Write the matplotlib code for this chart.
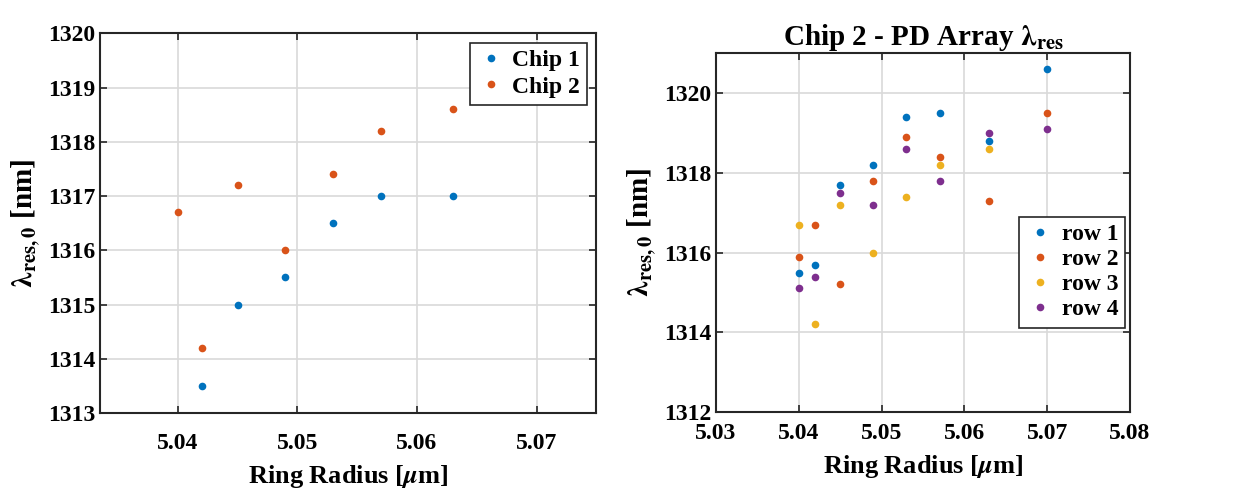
import matplotlib
matplotlib.use('Agg')
import matplotlib.pyplot as plt

plt.rcParams['font.family'] = ['Liberation Serif', 'DejaVu Serif']
plt.rcParams['font.weight'] = 'bold'
plt.rcParams['mathtext.fontset'] = 'stix'

# left panel: chip comparison
chip1_r = [5.042, 5.045, 5.049, 5.053, 5.057, 5.063]
chip1_lam = [1313.5, 1315.0, 1315.5, 1316.5, 1317.0, 1317.0]
chip2_r = [5.040, 5.042, 5.045, 5.049, 5.053, 5.057, 5.063]
chip2_lam = [1316.7, 1314.2, 1317.2, 1316.0, 1317.4, 1318.2, 1318.6]

# right panel: chip 2 PD array rows
radii = [5.040, 5.042, 5.045, 5.049, 5.053, 5.057, 5.063, 5.070]
row1 = [1315.5, 1315.7, 1317.7, 1318.2, 1319.4, 1319.5, 1318.8, 1320.6]
row2 = [1315.9, 1316.7, 1315.2, 1317.8, 1318.9, 1318.4, 1317.3, 1319.5]
row3 = [1316.7, 1314.2, 1317.2, 1316.0, 1317.4, 1318.2, 1318.6]
row4 = [1315.1, 1315.4, 1317.5, 1317.2, 1318.6, 1317.8, 1319.0, 1319.1]

colors = ['#0072BD', '#D95319', '#EDB120', '#7E2F8E']
ylab = r'$\mathrm{\lambda}_{\mathbf{res,0}}$ [nm]'
xlab = r'Ring Radius [$\mu$m]'

fig = plt.figure(figsize=(12.41, 4.96), dpi=100)
ax1 = fig.add_axes([0.0806, 0.167, 0.400, 0.766])
ax2 = fig.add_axes([0.577, 0.169, 0.3336, 0.724])


def style(ax, xpad, lpad):
    ax.grid(True, color='#d9d9d9', linewidth=1.2)
    ax.set_axisbelow(True)
    ax.tick_params(direction='in', top=True, right=True, labelsize=17,
                   length=5, width=1.2, color='#262626')
    ax.tick_params(axis='x', pad=xpad)
    for s in ax.spines.values():
        s.set_linewidth(1.5)
        s.set_color('#262626')
    ax.set_xlabel(xlab, fontsize=19, fontweight='bold', labelpad=lpad)
    ax.set_ylabel(ylab, fontsize=21, fontweight='bold', labelpad=4)


ax1.plot(chip1_r, chip1_lam, 'o', ms=5.5, mec='none', color=colors[0], label='Chip 1')
ax1.plot(chip2_r, chip2_lam, 'o', ms=5.5, mec='none', color=colors[1], label='Chip 2')
ax1.set_xlim(5.0335, 5.075)
ax1.set_ylim(1313, 1320)
ax1.set_xticks([5.04, 5.05, 5.06, 5.07])
style(ax1, 14, 7)
leg = ax1.legend(loc='upper right', fontsize=17, handletextpad=0.3, fancybox=False,
                 edgecolor='#262626', framealpha=1, borderaxespad=0.4, handlelength=1.2,
                 labelspacing=0.2, borderpad=0.3)
leg.get_frame().set_linewidth(1.2)

for y, c, lab in zip([row1, row2, row3, row4], colors, ['row 1', 'row 2', 'row 3', 'row 4']):
    ax2.plot(radii[:len(y)], y, 'o', ms=5.5, mec='none', color=c, label=lab)
ax2.set_xlim(5.03, 5.08)
ax2.set_ylim(1312, 1321)
ax2.set_xticks([5.03, 5.04, 5.05, 5.06, 5.07, 5.08])
ax2.set_yticks([1312, 1314, 1316, 1318, 1320])
style(ax2, 8, 6)
ax2.set_title(r'Chip 2 - PD Array $\mathrm{\lambda}_{\mathbf{res}}$', fontsize=21,
              fontweight='bold', pad=6)
leg = ax2.legend(loc='center right', bbox_to_anchor=(1.0, 0.39), fontsize=17,
                 handletextpad=0.3, fancybox=False, edgecolor='#262626', framealpha=1,
                 borderaxespad=0.2, handlelength=1.2, labelspacing=0.15, borderpad=0.3)
leg.get_frame().set_linewidth(1.2)

fig.savefig('out.png', dpi=100)
